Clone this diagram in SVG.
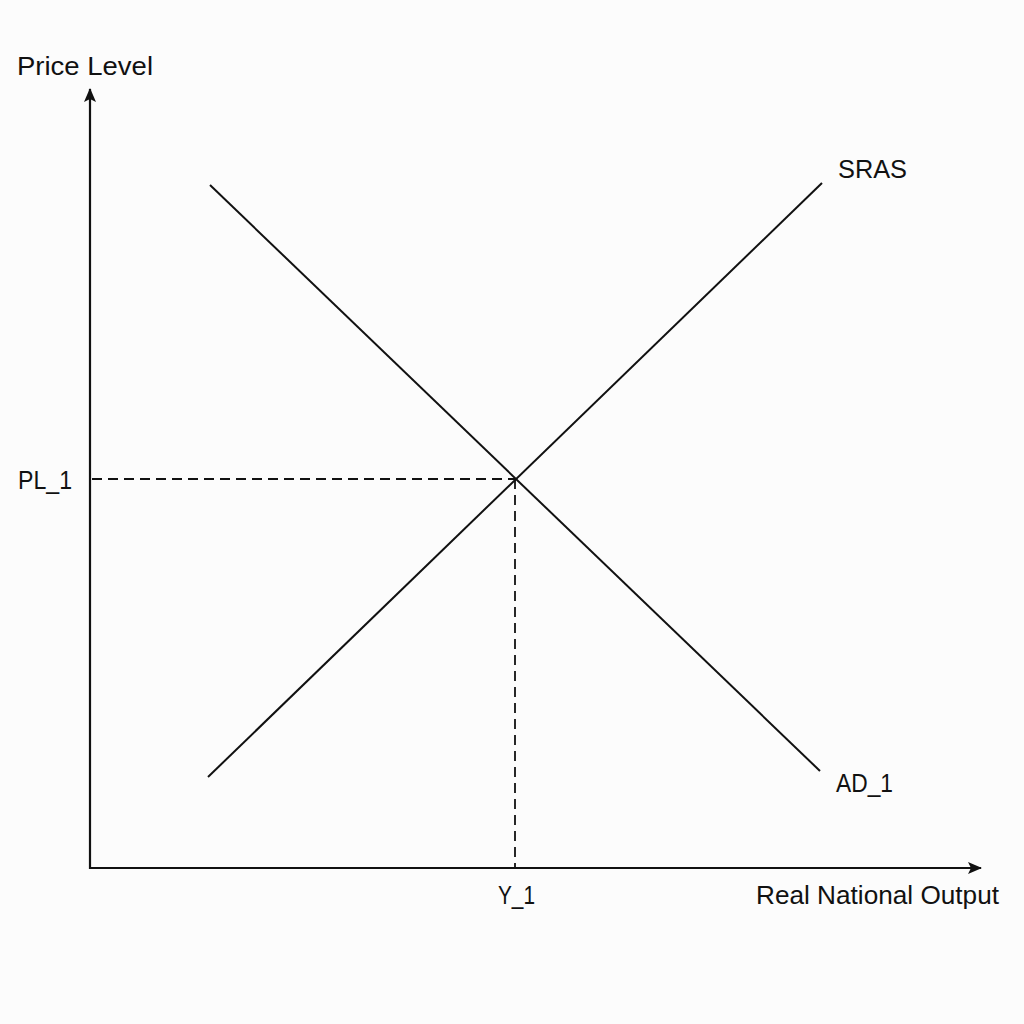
<svg xmlns="http://www.w3.org/2000/svg" width="1024" height="1024" viewBox="0 0 1024 1024">
<defs>
<style>
.lbl{font-family:"Liberation Sans",Arial,sans-serif;font-size:25px;fill:#111}
.ax{stroke:#111;stroke-width:2.2;fill:none}
.cv{stroke:#111;stroke-width:2;fill:none}
.dash{stroke:#111;stroke-width:1.8;fill:none;stroke-dasharray:10 6}
</style>
<marker id="arr" viewBox="0 0 14 12" refX="13" refY="6" markerWidth="14" markerHeight="12" markerUnits="userSpaceOnUse" orient="auto">
<path d="M0,0 L14,6 L0,12 L3,6 Z" fill="#111"/>
</marker>
</defs>
<rect width="1024" height="1024" fill="#fcfcfc"/>
<g id="connectors">
<line class="ax" x1="90" y1="869" x2="90" y2="89" marker-end="url(#arr)"/>
<line class="ax" x1="89" y1="868" x2="981" y2="868" marker-end="url(#arr)"/>
<line class="dash" x1="92" y1="479" x2="515" y2="479"/>
<line class="dash" x1="515" y1="479" x2="515" y2="867"/>
</g>
<g id="sras"><line class="cv" x1="208" y1="777" x2="822" y2="183"/><text class="lbl" x="838" y="178" textLength="69" lengthAdjust="spacingAndGlyphs">SRAS</text></g>
<g id="ad1"><line class="cv" x1="210" y1="185" x2="820" y2="771"/><text class="lbl" x="836" y="792" textLength="57" lengthAdjust="spacingAndGlyphs">AD_1</text></g>
<g id="ylabel"><text class="lbl" x="17" y="75" textLength="136" lengthAdjust="spacingAndGlyphs">Price Level</text></g>
<g id="xlabel"><text class="lbl" x="756" y="904" textLength="243" lengthAdjust="spacingAndGlyphs">Real National Output</text></g>
<g id="pl1"><text class="lbl" x="18" y="489" textLength="54" lengthAdjust="spacingAndGlyphs">PL_1</text></g>
<g id="y1"><text class="lbl" x="498" y="904" textLength="37" lengthAdjust="spacingAndGlyphs">Y_1</text></g>
</svg>
